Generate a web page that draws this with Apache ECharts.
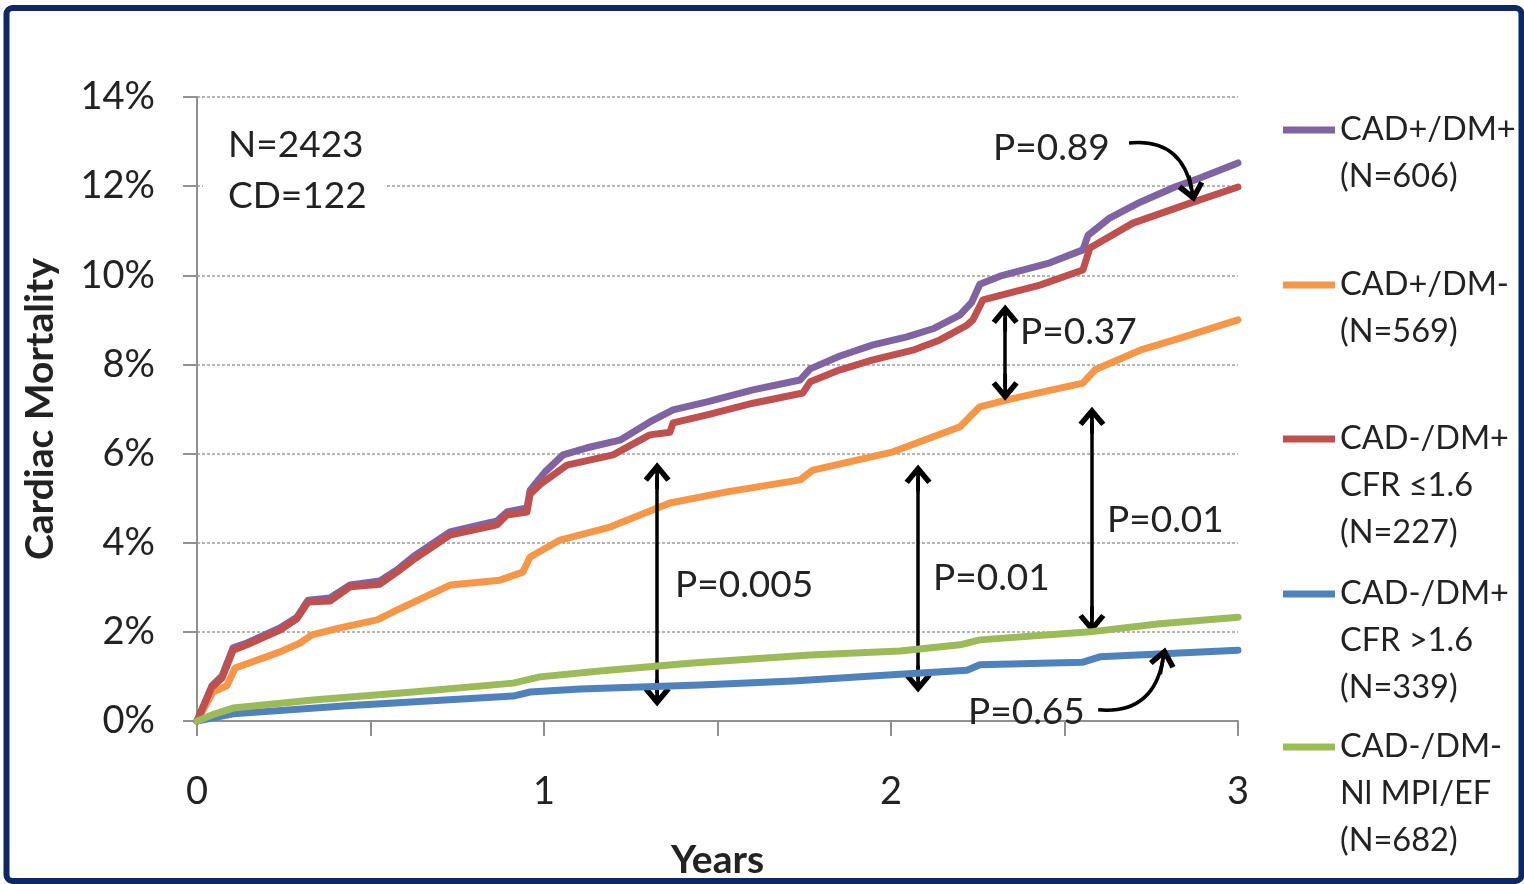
<!DOCTYPE html>
<html>
<head>
<meta charset="utf-8">
<script src="https://cdn.jsdelivr.net/npm/echarts@6/dist/echarts.min.js"></script>
<style>
html,body{margin:0;padding:0;background:#fff;}
#chart{width:1524px;height:884px;}
</style>
</head>
<body>
<div id="chart"></div>
<script>
// ---- data (years, cardiac mortality %) ----
const seriesNames = [
  'CAD+/DM+\n(N=606)',
  'CAD+/DM-\n(N=569)',
  'CAD-/DM+\nCFR \u22641.6\n(N=227)',
  'CAD-/DM+\nCFR >1.6\n(N=339)',
  'CAD-/DM-\nNl MPI/EF\n(N=682)'
];
const seriesColors = ['#8064a2', '#f79646', '#c0504d', '#4f81bd', '#9bbb59'];

const cadPosDmPos = [[0,0],[0.043,0.79],[0.072,1.01],[0.104,1.64],[0.144,1.75],[0.239,2.09],[0.288,2.33],[0.320,2.71],[0.383,2.76],[0.441,3.05],[0.527,3.14],[0.576,3.39],[0.622,3.68],[0.729,4.24],[0.865,4.49],[0.893,4.69],[0.951,4.78],[0.960,5.18],[1.003,5.59],[1.055,5.97],[1.124,6.13],[1.219,6.30],[1.305,6.71],[1.372,6.98],[1.470,7.16],[1.602,7.43],[1.738,7.65],[1.767,7.90],[1.853,8.19],[1.948,8.44],[2.046,8.62],[2.121,8.80],[2.199,9.11],[2.233,9.40],[2.256,9.80],[2.314,9.98],[2.458,10.28],[2.553,10.57],[2.568,10.90],[2.631,11.29],[2.718,11.64],[2.818,11.98],[2.890,12.18],[3.0,12.52]];

const cadPosDmNeg = [[0,0],[0.046,0.65],[0.086,0.79],[0.110,1.19],[0.239,1.55],[0.297,1.75],[0.331,1.93],[0.412,2.09],[0.519,2.27],[0.576,2.49],[0.729,3.05],[0.873,3.16],[0.939,3.34],[0.960,3.68],[1.046,4.06],[1.190,4.35],[1.363,4.89],[1.527,5.14],[1.738,5.41],[1.775,5.63],[2.006,6.04],[2.199,6.60],[2.256,7.05],[2.343,7.22],[2.553,7.58],[2.588,7.88],[2.718,8.32],[2.833,8.59],[3.0,9.00]];

const cadNegDmPosLowCfr = [[0,0],[0.043,0.76],[0.072,0.96],[0.104,1.59],[0.144,1.71],[0.239,2.04],[0.288,2.29],[0.320,2.67],[0.383,2.69],[0.441,3.01],[0.527,3.07],[0.576,3.34],[0.622,3.61],[0.729,4.17],[0.865,4.40],[0.893,4.62],[0.951,4.69],[0.960,5.09],[0.988,5.30],[1.066,5.74],[1.199,5.97],[1.305,6.42],[1.363,6.48],[1.372,6.69],[1.470,6.87],[1.602,7.13],[1.746,7.36],[1.767,7.61],[1.853,7.88],[1.948,8.10],[2.063,8.32],[2.141,8.55],[2.219,8.88],[2.236,9.00],[2.265,9.45],[2.429,9.78],[2.553,10.12],[2.573,10.61],[2.697,11.17],[2.862,11.62],[3.0,11.98]];

const cadNegDmPosHighCfr = [[0,0],[0.104,0.16],[0.432,0.34],[0.911,0.56],[0.960,0.65],[1.104,0.72],[1.450,0.81],[1.718,0.90],[2.026,1.05],[2.219,1.14],[2.256,1.26],[2.553,1.32],[2.602,1.44],[3.0,1.59]];

const cadNegDmNeg = [[0,0],[0.052,0.16],[0.104,0.29],[0.334,0.47],[0.622,0.65],[0.911,0.85],[0.988,0.99],[1.161,1.12],[1.429,1.30],[1.767,1.48],[2.026,1.57],[2.199,1.71],[2.256,1.82],[2.573,2.00],[2.775,2.18],[3.0,2.33]];

const seriesData = [cadPosDmPos, cadPosDmNeg, cadNegDmPosLowCfr, cadNegDmPosHighCfr, cadNegDmNeg];

const yTicks = [0, 2, 4, 6, 8, 10, 12, 14];
const xTicks = [0, 1, 2, 3];

// annotation arrows in data coordinates [year, %]
const doubleArrows = [
  [[1.326, 5.50], [1.326, 0.63]],
  [[2.078, 5.45], [2.078, 0.94]],
  [[2.579, 6.75], [2.579, 2.27]],
  [[2.329, 9.04], [2.329, 7.49]]
];
// curved arrows: [start, end]; which end carries the head is given separately
const curvedArrowP089 = [[2.686, 12.97], [2.866, 11.94]];
const curvedArrowP065 = [[2.783, 1.35], [2.597, 0.25]];

const pLabels = [
  { text: 'P=0.89', x: 993, y: 148 },
  { text: 'P=0.37', x: 1020, y: 332 },
  { text: 'P=0.005', x: 675, y: 585 },
  { text: 'P=0.01', x: 933, y: 578 },
  { text: 'P=0.01', x: 1107, y: 520 },
  { text: 'P=0.65', x: 968, y: 712 }
];

// ---- chart ----
const FONT = 'Lato, "Open Sans", sans-serif';
const chart = echarts.init(document.getElementById('chart'), null, { renderer: 'canvas' });

// open chevron head with a short shaft; square bounding box so a single size works
const arrowHead = 'path://M50,0 L100,60 L84,72 L50,31 L16,72 L0,60 Z M43,8 L57,8 L57,100 L43,100 Z';
const headSize = 27;

const LH = 47;
const legendIconY = [130, 285, 439, 594, 747];
const legends = seriesNames.map((name, i) => {
  const n = name.split('\n').length;
  const barTop = LH / 2 - 3.5, barBot = LH / 2 + 3.5, h = n * LH;
  const icon = 'path://M0,0 L52,0 Z M0,' + barTop + ' L52,' + barTop + ' L52,' + barBot +
    ' L0,' + barBot + ' Z M0,' + h + ' L52,' + h + ' Z';
  return {
    data: [{ name: name, icon: icon }],
    orient: 'vertical',
    left: 1283,
    top: legendIconY[i] - LH / 2,
    padding: 0,
    itemWidth: 52,
    itemHeight: h,
    selectedMode: false,
    itemStyle: { borderWidth: 0 },
    textStyle: { fontFamily: FONT, fontSize: 32.5, lineHeight: LH, color: '#222' }
  };
});

const series = seriesNames.map((name, i) => ({
  name: name,
  type: 'line',
  data: seriesData[i],
  showSymbol: false,
  symbol: 'none',
  color: seriesColors[i],
  lineStyle: { width: 7, color: seriesColors[i], cap: 'round', join: 'round' },
  itemStyle: { color: seriesColors[i] },
  z: 2 + i
}));

series.push({
  name: 'annotations',
  type: 'line',
  data: [],
  silent: true,
  z: 20,
  markLine: {
    silent: true,
    animation: false,
    symbol: [arrowHead, arrowHead],
    symbolSize: headSize,
    label: { show: false },
    lineStyle: { color: '#000', width: 3.5, type: 'solid' },
    data: doubleArrows.map(a => [{ coord: a[0] }, { coord: a[1] }])
  }
});
[
  { coords: curvedArrowP089, symbol: ['none', arrowHead], bend: 0.45 },
  { coords: curvedArrowP065, symbol: [arrowHead, 'none'], bend: 0.45 }
].forEach((c, k) => {
  series.push({
    name: 'curved' + k,
    type: 'lines',
    coordinateSystem: 'cartesian2d',
    silent: true,
    z: 20,
    polyline: false,
    symbol: c.symbol,
    symbolSize: headSize,
    lineStyle: { color: '#000', width: 3.5, opacity: 1, curveness: c.bend },
    data: [{ coords: c.coords }]
  });
});

const graphics = [
  {
    type: 'rect', z: 100, silent: true,
    shape: { x: 6.5, y: 8, width: 1515, height: 873, r: 6 },
    style: { fill: 'none', stroke: '#0c2866', lineWidth: 6 }
  },
  {
    type: 'text', x: 203, y: 112, z: 50, silent: true,
    style: {
      text: 'N=2423\nCD=122', font: '37px ' + FONT, lineHeight: 51, fill: '#222',
      backgroundColor: '#fff', padding: [8, 18, 8, 25]
    }
  }
].concat(pLabels.map(p => ({
  type: 'text', x: p.x, y: p.y, z: 50, silent: true,
  style: { text: p.text, font: '37px ' + FONT, fill: '#222', verticalAlign: 'middle' }
})));

chart.setOption({
  animation: false,
  backgroundColor: '#fff',
  textStyle: { fontFamily: FONT },
  grid: { left: 197, right: 286, top: 97, bottom: 163, containLabel: false, outerBoundsMode: 'none' },
  legend: legends,
  xAxis: {
    type: 'value',
    min: 0, max: 3, interval: 0.5,
    name: 'Years',
    nameLocation: 'middle',
    nameGap: 120,
    nameTextStyle: { fontFamily: FONT, fontSize: 39, fontWeight: 'bold', color: '#222' },
    axisLine: { show: true, lineStyle: { color: '#909090', width: 2 } },
    axisTick: { show: true, length: 15, lineStyle: { color: '#909090', width: 2 } },
    axisLabel: {
      margin: 52, fontSize: 38, color: '#222', fontFamily: FONT,
      formatter: v => (xTicks.indexOf(v) >= 0 ? String(v) : '')
    },
    splitLine: { show: false }
  },
  yAxis: {
    type: 'value',
    min: yTicks[0], max: yTicks[yTicks.length - 1], interval: 2,
    name: 'Cardiac Mortality',
    nameLocation: 'middle',
    nameGap: 137,
    nameRotate: 90,
    nameTextStyle: { fontFamily: FONT, fontSize: 39, fontWeight: 'bold', color: '#222' },
    axisLine: { show: true, lineStyle: { color: '#909090', width: 2 } },
    axisTick: { show: true, length: 14, lineStyle: { color: '#909090', width: 2 } },
    axisLabel: { margin: 42, fontSize: 38, color: '#222', fontFamily: FONT, formatter: '{value}%' },
    splitLine: { show: true, lineStyle: { color: '#b5b5b5', width: 2, type: [3, 2] } }
  },
  series: series,
  graphic: graphics
});
</script>
</body>
</html>
